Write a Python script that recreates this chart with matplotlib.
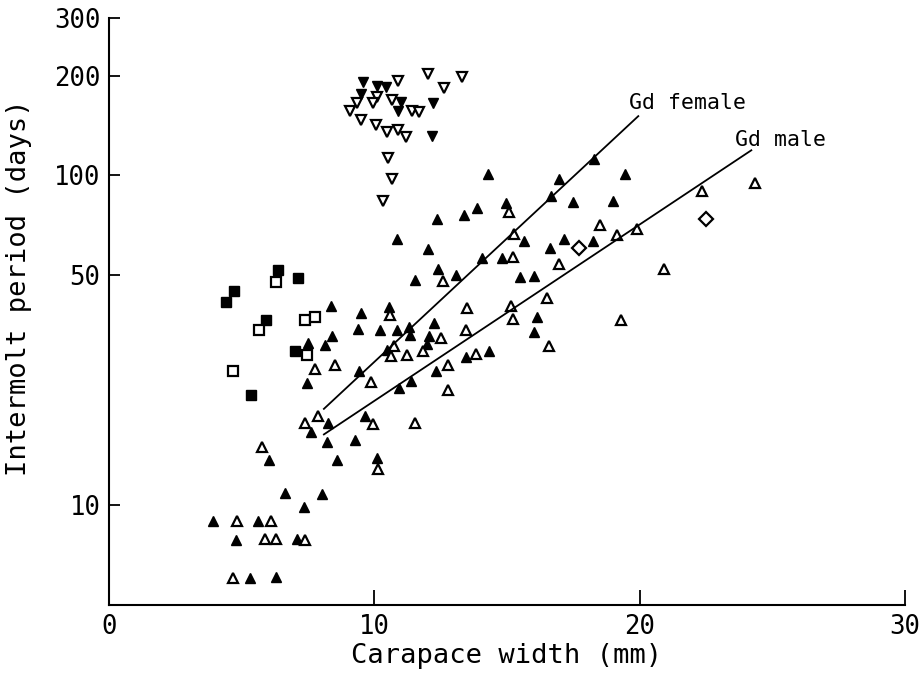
import matplotlib
matplotlib.use("Agg")
import matplotlib.pyplot as plt
from matplotlib.ticker import FixedLocator, FixedFormatter, NullLocator

# filled upward triangles
fup_x = [8.37, 9.50, 10.54, 9.38, 10.20, 10.85, 11.29, 11.35, 12.25, 12.08, 11.98, 8.41, 8.16,
         7.50, 9.41, 7.45, 10.94, 11.38, 12.33, 8.26, 7.60, 9.64, 8.20, 9.26, 6.02, 8.60, 10.10,
         6.62, 8.01, 7.35, 3.91, 5.61, 4.78, 7.07, 5.31, 6.31, 10.48, 14.27, 16.98, 19.46, 16.65,
         13.88, 14.98, 13.39, 12.38, 17.49, 19.01, 10.85, 12.04, 15.63, 17.15, 16.64, 18.24, 14.07,
         14.82, 12.39, 11.52, 13.07, 15.48, 16.02, 13.44, 14.32, 16.14, 16.02, 18.28]
fup_y = [40.1, 38.3, 39.9, 34.3, 33.9, 34.0, 34.8, 32.7, 35.6, 32.5, 30.9, 32.5, 30.7,
         31.1, 25.6, 23.5, 22.7, 23.8, 25.5, 17.7, 16.7, 18.6, 15.6, 15.8, 13.7, 13.7, 13.9,
         10.9, 10.8, 9.9, 8.94, 8.94, 7.87, 7.93, 6.03, 6.07, 29.6, 100.7, 97.3, 101.2, 86.5,
         79.8, 82.4, 75.7, 73.6, 83.0, 83.4, 64.0, 59.7, 63.2, 64.0, 60.4, 63.2, 56.0,
         56.1, 51.9, 48.3, 49.8, 49.2, 49.4, 28.1, 29.4, 37.1, 33.5, 111.6]

# open upward triangles
oup_x = [10.60, 7.78, 8.50, 9.89, 10.73, 10.64, 11.23, 11.82, 12.50, 7.89, 7.39, 9.94, 11.54,
         5.76, 10.13, 4.84, 6.12, 5.87, 6.28, 7.39, 4.68, 15.08, 12.58, 15.26, 15.23, 13.48,
         13.45, 13.83, 12.76, 12.79, 15.17, 15.21, 16.52, 16.97, 16.59, 18.52, 19.14, 19.89,
         20.90, 19.28, 22.34, 24.34]
oup_y = [37.8, 25.8, 26.6, 23.7, 30.4, 28.3, 28.6, 29.3, 32.2, 18.7, 17.7, 17.6, 17.7,
         15.0, 12.9, 8.94, 8.94, 7.93, 7.93, 7.87, 6.03, 77.4, 47.8, 66.2, 56.4, 39.5,
         33.9, 28.7, 26.7, 22.4, 40.1, 36.6, 42.6, 53.7, 30.3, 70.5, 65.8, 68.9,
         51.9, 36.4, 89.6, 94.4]

# filled squares
fsq_x = [6.37, 7.13, 4.72, 4.42, 5.91, 7.00, 5.36]
fsq_y = [51.5, 48.7, 44.7, 41.2, 36.5, 29.4, 21.6]

# open squares
osq_x = [6.28, 5.66, 7.38, 7.78, 7.45, 4.68]
osq_y = [47.4, 34.0, 36.4, 37.3, 28.5, 25.6]

# filled downward triangles
fdn_x = [9.58, 10.10, 10.44, 9.51, 10.99, 10.89, 12.23, 12.17]
fdn_y = [191, 186, 185, 176, 167, 157, 166, 131.5]

# open downward triangles
odn_x = [10.89, 12.04, 13.29, 12.62, 10.10, 10.66, 9.35, 9.94, 9.10, 11.42, 11.69, 9.51,
         10.06, 10.48, 10.88, 11.19, 10.50, 10.66, 10.32]
odn_y = [193, 202, 199, 184, 172, 169, 165, 165, 157, 157, 155, 147,
         142, 135, 137, 131, 113, 97.7, 83.6]

# open diamonds
dia_x = [17.71, 22.49]
dia_y = [60.0, 73.6]

# fitted lines
female_x = [8.10, 19.95]
female_y = [19.6, 151]
male_x = [8.10, 24.21]
male_y = [16.4, 119]

yticks = [10, 50, 100, 200, 300]
xticks = [0, 10, 20, 30]

plt.rcParams['font.family'] = ['DejaVu Sans Mono', 'DejaVu Sans']
fig = plt.figure(figsize=(9.22, 6.81), dpi=100)
ax = fig.add_axes([0.1182, 0.112, 0.8633, 0.862])

ms = 7.5
ew = 1.6
ax.plot(fup_x, fup_y, ls='none', marker='^', ms=ms, color='black')
ax.plot(oup_x, oup_y, ls='none', marker='^', ms=ms, mfc='white', mec='black', mew=ew)
ax.plot(fsq_x, fsq_y, ls='none', marker='s', ms=7, color='black')
ax.plot(osq_x, osq_y, ls='none', marker='s', ms=7, mfc='white', mec='black', mew=ew)
ax.plot(fdn_x, fdn_y, ls='none', marker='v', ms=ms, color='black')
ax.plot(odn_x, odn_y, ls='none', marker='v', ms=ms, mfc='white', mec='black', mew=ew)
ax.plot(dia_x, dia_y, ls='none', marker='D', ms=7, mfc='white', mec='black', mew=ew)

ax.plot(female_x, female_y, color='black', lw=1.3)
ax.plot(male_x, male_y, color='black', lw=1.3)
ax.text(19.6, 166, 'Gd female', fontsize=15.5, ha='left', va='center')
ax.text(23.58, 128, 'Gd male', fontsize=15.5, ha='left', va='center')

ax.set_yscale('log')
ax.set_ylim(5, 300)
ax.set_xlim(0, 30)
ax.yaxis.set_major_locator(FixedLocator(yticks))
ax.yaxis.set_major_formatter(FixedFormatter([str(t) for t in yticks]))
ax.yaxis.set_minor_locator(NullLocator())
ax.set_xticks(xticks)
ax.set_xticklabels([str(t) for t in xticks])

for s in ['top', 'right']:
    ax.spines[s].set_visible(False)
for s in ['left', 'bottom']:
    ax.spines[s].set_linewidth(1.5)
ax.tick_params(axis='y', direction='in', length=8, width=1.3, labelsize=18.5, pad=6)
ax.tick_params(axis='x', direction='in', length=11, width=1.3, labelsize=18.5, pad=7)

ax.set_xlabel('Carapace width (mm)', fontsize=19.5, labelpad=2)
ax.set_ylabel('Intermolt period (days)', fontsize=19.5)
ax.yaxis.set_label_coords(-0.097, 0.54)

fig.savefig('out.png', dpi=100)
